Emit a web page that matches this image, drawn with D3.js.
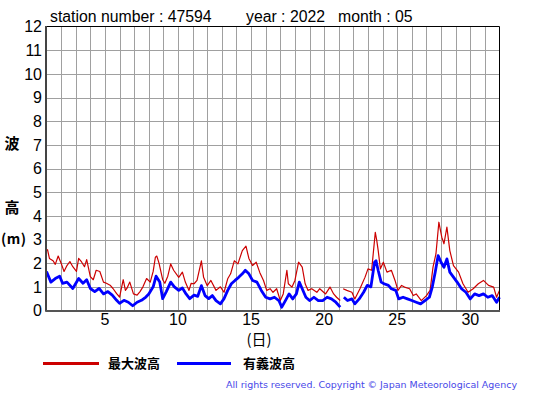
<!DOCTYPE html>
<html><head><meta charset="utf-8">
<script src="https://cdn.jsdelivr.net/npm/d3@7"></script>
<style>body{margin:0;background:#fff}svg{display:block}</style>
</head><body>
<script>
const yTicks = [0,1,2,3,4,5,6,7,8,9,10,11,12];
const xTickLabels = [5,10,15,20,25,30];
const maxDays = [1.0,1.07,1.2,1.45,1.6,1.8,2.0,2.2,2.4,2.6,2.8,3.05,3.2,3.4,3.6,3.75,4.0,4.2,4.4,4.65,4.9,5.1,5.35,5.55,5.8,6.0,6.25,6.4,6.5,6.7,6.95,7.2,7.4,7.6,7.85,8.1,8.3,8.45,8.55,8.7,8.95,9.1,9.3,9.5,9.7,10.05,10.3,10.5,10.75,10.9,11.1,11.3,11.6,11.75,12.0,12.25,12.6,12.9,13.15,13.4,13.6,13.85,14.1,14.4,14.65,14.85,15.1,15.35,15.6,15.85,16.07,16.3,16.5,16.75,17.0,17.2,17.45,17.55,17.8,18.0,18.25,18.5,18.7,18.9,19.15,19.5,19.7,20.1,20.4,20.65,20.85,21.1,21.2,21.3,21.55,21.9,22.1,22.45,22.8,23.0,23.25,23.5,23.6,23.7,23.85,24.05,24.3,24.6,24.85,25.05,25.3,25.5,25.85,26.1,26.3,26.65,27.0,27.25,27.45,27.65,27.85,28.05,28.2,28.4,28.6,28.85,29.2,29.5,29.85,30.2,30.55,30.9,31.25,31.6,31.8,32.0];
const maxWave = [2.55,2.57,2.2,2.1,1.95,2.3,2.0,1.65,1.9,2.07,1.85,1.65,2.2,2.05,1.85,2.15,1.43,1.3,1.7,1.65,1.2,1.15,1.07,0.93,0.71,0.57,1.3,0.85,0.93,1.2,0.7,0.65,0.8,1.0,1.35,1.2,1.65,2.25,2.3,2.0,1.3,1.15,1.45,1.97,1.7,1.4,1.62,1.2,0.85,1.15,1.13,1.27,2.1,1.4,1.05,1.27,0.85,1.0,0.77,1.34,1.55,2.1,1.97,2.53,2.72,2.2,1.9,2.04,1.6,1.27,0.85,0.92,0.77,0.92,0.42,0.7,1.7,1.13,0.99,1.27,2.04,1.83,1.13,0.85,0.92,0.77,0.92,0.7,0.99,0.7,0.56,0.42,null,0.92,0.85,0.77,0.49,0.92,1.41,1.76,1.7,3.3,2.96,2.53,1.76,2.04,1.62,1.7,1.27,0.85,1.06,0.99,0.92,0.63,0.7,0.42,0.63,0.85,1.83,2.39,3.73,3.1,2.82,3.52,2.53,1.9,1.62,1.13,0.77,0.92,1.13,1.27,1.06,0.99,0.56,0.85];
const sigDays = [1.0,1.3,1.6,1.9,2.1,2.4,2.8,3.2,3.5,3.75,4.0,4.3,4.6,4.9,5.2,5.5,5.8,6.0,6.3,6.6,6.9,7.2,7.5,7.8,8.0,8.3,8.5,8.75,8.95,9.2,9.5,9.75,10.05,10.3,10.55,10.8,11.1,11.35,11.6,11.85,12.1,12.35,12.6,12.9,13.15,13.4,13.65,13.9,14.15,14.4,14.6,14.85,15.1,15.4,15.7,16.0,16.3,16.6,16.9,17.1,17.35,17.6,17.85,18.1,18.3,18.5,18.75,19.0,19.3,19.6,19.9,20.2,20.5,20.8,21.1,21.2,21.35,21.6,21.9,22.1,22.4,22.7,22.95,23.2,23.45,23.55,23.7,23.9,24.1,24.4,24.6,24.9,25.1,25.4,25.7,26.0,26.3,26.6,26.9,27.2,27.4,27.6,27.8,28.0,28.2,28.4,28.6,28.85,29.1,29.4,29.7,30.0,30.3,30.6,30.9,31.2,31.5,31.8,32.0];
const sigWave = [1.65,1.2,1.35,1.45,1.15,1.2,0.93,1.35,1.15,1.3,0.93,0.8,0.93,0.7,0.8,0.65,0.43,0.3,0.43,0.35,0.2,0.35,0.43,0.57,0.7,1.0,1.45,1.2,0.5,0.8,1.2,1.0,0.85,0.95,0.7,0.5,0.65,0.6,1.05,0.63,0.5,0.63,0.42,0.28,0.5,0.85,1.13,1.27,1.4,1.55,1.7,1.55,1.27,1.2,0.85,0.56,0.49,0.56,0.42,0.14,0.42,0.7,0.49,0.7,1.2,0.92,0.56,0.42,0.56,0.42,0.42,0.56,0.49,0.35,0.14,null,0.56,0.42,0.49,0.28,0.49,0.77,1.06,1.0,2.04,2.1,1.69,1.2,1.13,1.06,0.92,0.85,0.49,0.56,0.49,0.42,0.35,0.28,0.42,0.56,0.99,1.62,2.32,2.04,1.83,2.18,1.62,1.41,1.2,0.92,0.77,0.49,0.7,0.63,0.7,0.56,0.63,0.35,0.56];

const W = 555, H = 395;
const L = 46.5, R = 499.5, T = 26.5, B = 310.5;
const svg = d3.select("body").append("svg").attr("width", W).attr("height", H);
const x = d3.scaleLinear().domain([1, 32]).range([L, R]);
const y = d3.scaleLinear().domain([0, 12]).range([B, T]);
const font = "Liberation Sans, Arial, sans-serif";

// grid
const g = svg.append("g");
g.selectAll("line.v").data(d3.range(2, 32)).join("line")
  .attr("x1", d => Math.round(x(d)) + 0.5).attr("x2", d => Math.round(x(d)) + 0.5)
  .attr("y1", T).attr("y2", B).attr("stroke", "#a0a0a0").attr("stroke-width", 1);
g.selectAll("line.h").data(yTicks.slice(1, -1)).join("line")
  .attr("x1", L).attr("x2", R)
  .attr("y1", d => Math.round(y(d)) + 0.5).attr("y2", d => Math.round(y(d)) + 0.5)
  .attr("stroke", "#a0a0a0").attr("stroke-width", 1);

// lines
const mk = (days, vals) => days.map((d, i) => [d, vals[i]]);
const line = d3.line().defined(d => d[1] !== null).x(d => x(d[0])).y(d => y(d[1]));
svg.append("path").datum(mk(maxDays, maxWave)).attr("d", line)
  .attr("fill", "none").attr("stroke", "#cc0000").attr("stroke-width", 1.2).attr("stroke-linejoin", "round");
svg.append("path").datum(mk(sigDays, sigWave)).attr("d", line)
  .attr("fill", "none").attr("stroke", "#0000ff").attr("stroke-width", 2.8).attr("stroke-linejoin", "round");

// frame
svg.append("line").attr("x1", L).attr("x2", R).attr("y1", T).attr("y2", T).attr("stroke", "#000");
svg.append("line").attr("x1", R).attr("x2", R).attr("y1", T).attr("y2", B).attr("stroke", "#000");
svg.append("line").attr("x1", L - 0.5).attr("x2", L - 0.5).attr("y1", T - 0.5).attr("y2", B + 1).attr("stroke", "#444").attr("stroke-width", 2);
svg.append("line").attr("x1", L - 1).attr("x2", R + 0.5).attr("y1", B + 0.5).attr("y2", B + 0.5).attr("stroke", "#555").attr("stroke-width", 2);

// y axis labels
svg.selectAll("text.yt").data(yTicks).join("text")
  .attr("x", 42).attr("y", d => y(d)).attr("dy", "0.36em").attr("text-anchor", "end")
  .attr("font-family", font).attr("font-size", 16).text(d => d);
// x axis labels
svg.selectAll("text.xt").data(xTickLabels).join("text")
  .attr("x", d => x(d)).attr("y", 325).attr("text-anchor", "middle")
  .attr("font-family", font).attr("font-size", 16).text(d => d);

// title
const tt = (t, xx) => svg.append("text").attr("x", xx).attr("y", 22).attr("font-family", font).attr("font-size", 15.8).text(t);
tt("station number : 47594", 50);
tt("year : 2022", 246);
tt("month : 05", 338);

// y axis title
const cjk = "Noto Sans CJK JP, sans-serif";
svg.append("text").attr("x", 12).attr("y", 149).attr("text-anchor", "middle").attr("font-family", cjk).attr("font-weight", "bold").attr("font-size", 15).text("波");
svg.append("text").attr("x", 12).attr("y", 213).attr("text-anchor", "middle").attr("font-family", cjk).attr("font-weight", "bold").attr("font-size", 15).text("高");
svg.append("text").attr("x", 1).attr("y", 244).attr("font-family", cjk).attr("font-weight", "bold").attr("font-size", 14)
  .attr("textLength", 25).attr("lengthAdjust", "spacing").text("(m)");
svg.append("text").attr("x", 259).attr("y", 345).attr("text-anchor", "middle").attr("font-family", cjk).attr("font-size", 15).text("(日)");

// legend
svg.append("line").attr("x1", 43).attr("x2", 99).attr("y1", 363.5).attr("y2", 363.5).attr("stroke", "#cc0000").attr("stroke-width", 3);
svg.append("text").attr("x", 108).attr("y", 368).attr("font-family", cjk).attr("font-weight", "bold").attr("font-size", 13).text("最大波高");
svg.append("line").attr("x1", 177).attr("x2", 231).attr("y1", 363.5).attr("y2", 363.5).attr("stroke", "#0000ff").attr("stroke-width", 3);
svg.append("text").attr("x", 243).attr("y", 368).attr("font-family", cjk).attr("font-weight", "bold").attr("font-size", 13).text("有義波高");

// copyright
svg.append("text").attr("x", 226).attr("y", 388).attr("font-family", "DejaVu Sans, sans-serif").attr("font-size", 9.5)
  .attr("fill", "#4848e8").attr("textLength", 291).attr("lengthAdjust", "spacing")
  .text("All rights reserved. Copyright © Japan Meteorological Agency");
</script>
</body></html>
